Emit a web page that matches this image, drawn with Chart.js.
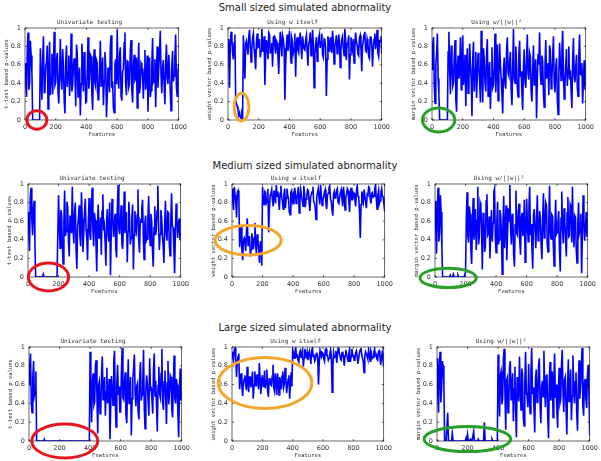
<!DOCTYPE html>
<html>
<head>
<meta charset="utf-8">
<script src="https://cdn.jsdelivr.net/npm/chart.js@4"></script>
<style>
  body { margin: 0; background: #fff; width: 601px; height: 461px; position: relative; overflow: hidden; }
  .fila { position: absolute; left: 205px; width: 200px; text-align: center; font: 10px "DejaVu Sans"; line-height: 12px; color: #222; white-space: nowrap; }
  .panel { position: absolute; }
</style>
</head>
<body>
<div class="fila" style="top:2px">Small sized simulated abnormality</div>
<div class="fila" style="top:160px">Medium sized simulated abnormality</div>
<div class="fila" style="top:322px">Large sized simulated abnormality</div>
<script>
// un valor leido cada 5 features (0..1000)
const step = 5;
const xTicks = [0, 200, 400, 600, 800, 1000];
const yTicks = [0, 0.2, 0.4, 0.6, 0.8, 1];
const panelTitles = ['Univariate testing', 'Using w itself', 'Using w/||w||\u00b2'];
const yLabels = ['t-test based p-values', 'weight vector based p-values', 'margin vector based p-values'];

const smallUnivariate = [
  .62,.41,.25,.78,.95,.33,.40,.86,.70,.52, 0,0,0,0,0,0,0,0,0,0,
  .78,.44,.22,.67,.91,.30,.35,.58,.64,.81,.12,.49,.85,.27,.47,.72,.28,.60,.96,.38,
  .41,.66,.73,.29,.18,.54,.88,.43,.33,.77,.59,.21,.07,.63,.81,.36,.52,.70,.26,.45,
  .94,.31,.38,.60,.67,.48,.15,.82,.72,.25,.44,.57,.05,.39,.83,.61,.31,.74,.58,.19,
  .20,.53,.90,.34,.46,.71,.69,.28,.11,.55,.77,.40,.36,.65,.62,.22,.24,.50,.86,.37,
  .49,.68,.16,.42,.74,.58,.03,.27,.57,.45,.30,.79,.92,.35,.42,.13,.08,.61,.66,.39,
  .98,.47,.34,.71,.79,.26,.21,.53,.55,.84,.95,.40,.27,.64,.63,.36,.40,.75,.87,.32,
  .19,.56,.71,.43,.45,.68,.13,.51,.84,.29,.37,.62,.60,.47,.23,.55,.76,.33,.50,.70,
  .09,.44,.68,.25,.32,.59,.89,.41,.43,.66,.14,.52,.80,.35,.56,.73,.97,.48,.29,.57,
  .65,.38,.17,.60,.82,.46,.39,.71,.54,.31,.10,.58,.75,.42,.48,.67,.93,.36,.26,.53,
  .61];
const smallWeight = [
  .88,.74,.35,.81,.96,.90,.72,.66,.84,.93, .22,.18,.15,.10,.05,.08,.03,.02,.07,.04,
  .92,.70,.45,.83,.86,.78,.71,.90,.98,.81,.63,.77,.89,.94,.77,.68,.55,.85,.94,.79,
  .80,.88,.68,.75,.99,.82,.74,.91,.38,.70,.87,.79,.66,.95,.93,.72,.79,.84,.58,.90,
  .91,.80,.72,.86,.84,.69,.50,.77,.96,.85,.69,.92,.88,.78,.22,.60,.81,.93,.75,.84,
  .97,.78,.62,.89,.85,.73,.78,.94,.47,.82,.90,.76,.73,.88,.95,.80,.66,.91,.83,.77,
  .76,.87,.92,.74,.59,.83,.86,.95,.70,.79,.98,.84,.35,.72,.82,.90,.64,.78,.89,.93,
  .78,.85,.94,.71,.68,.88,.87,.79,.26,.66,.91,.83,.74,.90,.80,.73,.97,.86,.61,.80,
  .85,.92,.72,.78,.93,.84,.57,.76,.88,.91,.79,.70,.99,.87,.65,.83,.84,.92,.44,.71,
  .90,.81,.76,.88,.62,.79,.95,.86,.81,.72,.70,.89,.92,.78,.53,.80,.86,.93,.96,.75,
  .74,.88,.83,.69,.67,.90,.91,.82,.58,.77,.88,.94,.77,.84,.98,.73,.69,.86,.85,.91,
  .72];
const smallMargin = [
  .55,.82,.90,.35,.18,.61,.72,.94,.45,.27, 0,0,0,0,0,0,0,0,0,0,
  0,.74,.96,.52,.28,.81,.63,.37,.41,.69,.87,.22,.09,.58,.70,.45,.52,.90,.33,.64,
  .92,.38,.47,.71,.15,.56,.78,.29,.36,.83,.61,.44,.04,.67,.85,.31,.55,.74,.24,.48,
  .73,.60,.42,.19,.97,.53,.19,.78,.66,.40,.31,.72,.88,.26,.50,.63,.12,.46,.79,.35,
  .38,.57,.94,.30,.57,.82,.21,.49,.83,.60,.45,.27,.07,.54,.68,.39,.34,.76,.90,.51,
  .48,.65,.74,.33,.16,.59,.99,.44,.40,.80,.62,.36,.25,.71,.86,.47,.53,.29,.11,.57,
  .77,.42,.35,.64,.93,.50,.44,.73,.69,.31,.20,.55,.81,.38,.58,.66,.02,.43,.72,.60,
  .95,.49,.39,.70,.64,.28,.14,.57,.87,.45,.51,.62,.27,.81,.75,.34,.46,.68,.91,.40,
  .30,.56,.67,.23,.06,.49,.84,.61,.43,.74,.97,.52,.23,.39,.60,.77,.37,.55,.80,.44,
  .54,.32,.13,.66,.89,.47,.41,.58,.71,.36,.26,.69,.93,.50,.49,.62,.18,.45,.65,.33,
  .58];

const mediumUnivariate = [
  .70,.52,.28,.86,.96,.63,.45,.74,.82,.40, 0,0,0,0,0,0,0,0,0,0,
  .03,0,0,0,0,0,0,0,0,0,0,0,0,0,0,0,0,0,0,0,
  .88,.57,.31,.72,.67,.35,.14,.60,.93,.44,.49,.81,.75,.38,.22,.66,.58,.47,.97,.53,
  .36,.70,.80,.29,.09,.55,.63,.77,.44,.33,.91,.62,.27,.48,.70,.84,.52,.41,.18,.59,
  .85,.46,.40,.73,.96,.51,.33,.69,.61,.38,.06,.57,.78,.42,.47,.64,.24,.71,.89,.50,
  .55,.37,.12,.62,.73,.45,.38,.80,.02,.48,.84,.66,.43,.56,.68,.31,.21,.74,.99,.52,
  .46,.61,.77,.35,.30,.58,.92,.47,.57,.70,.16,.49,.81,.63,.35,.42,.64,.78,.08,.45,
  .71,.54,.49,.67,.94,.40,.26,.61,.59,.73,.83,.44,.19,.57,.66,.39,.41,.63,.87,.52,
  .34,.68,.60,.29,.11,.53,.76,.45,.50,.71,.98,.57,.29,.46,.72,.64,.45,.33,.15,.58,
  .82,.47,.39,.70,.69,.36,.23,.62,.90,.55,.53,.30,.04,.48,.79,.61,.42,.56,.63,.40,
  .48];
const mediumWeight = [
  .95,.84,.72,.97,.88,.80,.64,.91,.93,.86, .32,.45,.55,.28,.18,.40,.42,.36,.28,.50,
  .63,.34,.36,.44,.22,.30,.47,.38,.30,.42,.58,.33,.25,.46,.40,.29,.15,.37,.38,.12,
  .97,.85,.78,.92,.91,.80,.83,.95,.48,.74,.88,.90,.94,.82,.76,.93,.86,.79,.99,.87,
  .92,.84,.72,.90,.98,.86,.81,.73,.89,.95,.74,.85,.95,.88,.84,.70,.67,.91,.93,.82,
  .87,.78,.96,.90,.79,.85,.90,.97,.69,.83,.94,.88,.82,.76,.98,.90,.75,.84,.88,.94,
  .93,.80,.71,.87,.89,.92,.97,.81,.80,.74,.62,.86,.91,.95,.85,.78,.99,.89,.77,.83,
  .86,.91,.94,.79,.73,.88,.90,.96,.98,.84,.81,.72,.66,.89,.92,.85,.87,.93,.95,.80,
  .79,.86,.91,.94,.84,.76,.97,.88,.72,.85,.89,.95,.93,.81,.70,.90,.96,.83,.83,.91,
  .90,.82,.76,.93,.98,.87,.85,.70,.42,.78,.92,.86,.81,.94,.94,.80,.74,.89,.88,.97,
  .96,.84,.79,.90,.91,.86,.87,.95,.99,.83,.73,.88,.93,.79,.82,.91,.95,.87,.86,.78,
  .70];
const mediumMargin = [
  .82,.55,.25,.71,.96,.38,.48,.88,.70,.30, 0,0,0,0,0,0,0,0,0,0,
  .02,0,0,0,.03,0,0,0,0,0,.02,0,0,0,0,0,0,0,0,0,
  .05,.62,.91,.44,.37,.76,.68,.29,.14,.57,.85,.40,.52,.73,.29,.61,.97,.35,.43,.80,
  .76,.50,.08,.69,.63,.27,.33,.82,.89,.45,.47,.65,.20,.54,.72,.38,.58,.91,.95,.42,
  .26,.60,.81,.35,.40,.72,.66,.49,.03,.58,.87,.31,.54,.77,.18,.46,.74,.60,.99,.52,
  .35,.68,.60,.24,.11,.56,.93,.47,.45,.70,.79,.38,.24,.63,.69,.44,.50,.83,.16,.41,
  .84,.57,.38,.75,.97,.45,.57,.30,.09,.66,.73,.52,.31,.61,.88,.39,.46,.71,.62,.34,
  .19,.64,.90,.42,.53,.80,.77,.35,.27,.59,.98,.48,.41,.67,.65,.33,.12,.55,.83,.46,
  .48,.59,.71,.28,.06,.63,.92,.51,.36,.74,.59,.40,.22,.69,.86,.43,.44,.78,.75,.37,
  .97,.50,.32,.66,.64,.29,.15,.58,.80,.47,.51,.68,.04,.45,.88,.60,.39,.52,.70,.43,
  .55];

const largeUnivariate = [
  .60,.81,.93,.42,.30,.67,.85,.48,.52,.74, 0,0,0,0,0,0,0,0,0,0,
  .02,0,0,0,0,0,0,0,0,0,0,0,0,0,0,0,0,0,0,0,
  0,0,0,0,0,0,0,0,0,0,0,0,0,0,0,0,0,0,0,0,
  0,0,0,0,0,0,0,0,0,0,0,0,0,0,0,0,0,0,0,0,
  .95,.56,.20,.63,.72,.38,.41,.80,.86,.47,.08,.59,.63,.29,.34,.71,.90,.44,.55,.68,
  .27,.52,.78,.40,.47,.66,.02,.35,.69,.57,.38,.84,.96,.42,.15,.60,.81,.49,.58,.31,
  .31,.73,.99,.46,.44,.62,.73,.28,.19,.55,.87,.40,.52,.68,.06,.45,.66,.78,.92,.50,
  .37,.58,.61,.30,.23,.70,.84,.43,.49,.64,.97,.35,.13,.52,.70,.61,.42,.27,.88,.55,
  .56,.44,.29,.75,.93,.48,.64,.37,.10,.59,.79,.50,.46,.72,.98,.41,.33,.63,.75,.47,
  .18,.62,.85,.39,.51,.70,.68,.34,.25,.57,.91,.45,.40,.66,.60,.29,.04,.52,.77,.43,
  .53];
const largeWeight = [
  .95,.90,.85,.97,.99,.88,.68,.84,.90,.93, .55,.66,.72,.58,.48,.61,.66,.70,.60,.54,
  .79,.62,.52,.68,.68,.57,.63,.74,.45,.59,.74,.65,.58,.71,.65,.55,.83,.67,.50,.62,
  .70,.58,.61,.75,.56,.64,.76,.53,.47,.66,.67,.60,.59,.69,.81,.57,.53,.72,.64,.49,
  .72,.63,.49,.68,.62,.55,.69,.74,.57,.61,.78,.66,.51,.59,.66,.70,.45,.62,.73,.58,
  .97,.93,.88,.95,.99,.90,.91,.86,.84,.94,.96,.89,.93,.97,.79,.88,.98,.92,.90,.95,
  .86,.91,.95,.88,.82,.96,.99,.90,.92,.85,.87,.93,.94,.89,.60,.84,.96,.91,.89,.94,
  .93,.88,.85,.97,.98,.91,.91,.86,.88,.93,.97,.90,.52,.80,.94,.89,.90,.96,.83,.92,
  .99,.95,.92,.87,.86,.94,.95,.89,.80,.91,.97,.93,.89,.85,.93,.98,.84,.90,.98,.92,
  .91,.86,.87,.94,.96,.90,.82,.88,.94,.97,.99,.92,.88,.85,.73,.90,.95,.93,.90,.87,
  .97,.92,.85,.96,.93,.88,.89,.94,.98,.91,.92,.87,.86,.95,.96,.90,.81,.89,.94,.86,
  .80];
const largeMargin = [
  .88,.52,.30,.76,.95,.41,.55,.85,.80,.62, 0,0,0,0,.30,0,0,0,0,0,
  .08,0,0,0,0,0,0,0,0,0,0,0,0,0,0,0,0,0,.03,0,
  .07,0,0,0,.02,0,0,0,.10,0,0,0,0,0,.02,0,0,0,0,0,
  0,0,.20,0,0,0,0,0,0,0,0,0,.02,0,0,0,0,0,0,0,
  .92,.58,.26,.70,.74,.39,.45,.88,.98,.51,.12,.64,.67,.30,.38,.79,.85,.44,.53,.72,
  .21,.55,.79,.33,.04,.68,.61,.42,.90,.57,.33,.77,.70,.25,.16,.62,.95,.51,.48,.36,
  .82,.45,.29,.73,.99,.50,.57,.34,.09,.66,.76,.41,.42,.80,.88,.37,.19,.58,.64,.47,
  .96,.54,.36,.69,.71,.28,.03,.60,.84,.43,.50,.74,.25,.62,.93,.46,.60,.31,.14,.55,
  .78,.40,.44,.81,.97,.52,.31,.65,.68,.35,.07,.59,.87,.42,.55,.76,.22,.48,.91,.56,
  .40,.63,.73,.29,.11,.57,.86,.45,.58,.79,.99,.38,.27,.61,.66,.44,.35,.70,.81,.49,
  .06];

// area = [izq, arriba, der, abajo] del recuadro en px; ring en unidades de datos
const panels = [
  { values: smallUnivariate, col: 0, area: [25, 28, 180, 120], ring: { x: 77, y: 0, rx: 65, ry: 0.1, color: '#e8141c' } },
  { values: smallWeight, col: 1, area: [228, 28, 383, 120], ring: { x: 88, y: 0.14, rx: 48, ry: 0.15, color: '#f2a72c' } },
  { values: smallMargin, col: 2, area: [432, 28, 587, 120], ring: { x: 43, y: 0, rx: 105, ry: 0.13, color: '#26a026' } },
  { values: mediumUnivariate, col: 0, area: [28, 184, 182, 277], ring: { x: 134, y: 0, rx: 132, ry: 0.15, color: '#e8141c' } },
  { values: mediumWeight, col: 1, area: [232, 184, 386, 277], ring: { x: 106, y: 0.395, rx: 216, ry: 0.158, color: '#f2a72c' } },
  { values: mediumMargin, col: 2, area: [435, 184, 589, 277], ring: { x: 86, y: -0.01, rx: 184, ry: 0.104, color: '#26a026' } },
  { values: largeUnivariate, col: 0, area: [29, 347, 183, 441], ring: { x: 234, y: 0, rx: 216, ry: 0.18, color: '#e8141c' } },
  { values: largeWeight, col: 1, area: [232, 347, 385, 441], ring: { x: 218, y: 0.617, rx: 308, ry: 0.27, color: '#f2a72c' } },
  { values: largeMargin, col: 2, area: [437, 347, 591, 441], ring: { x: 199, y: 0.02, rx: 284, ry: 0.133, color: '#26a026' } }
];

const smallFont = { family: 'DejaVu Sans Mono', size: 5.5 };
const tickFont = { family: 'DejaVu Sans', size: 6.5 };

function makeFrame(ring) {
  return {
    id: 'frame',
    afterDatasetsDraw(chart) {
      const { ctx, chartArea: a, scales: { x, y } } = chart;
      ctx.save();
      ctx.strokeStyle = '#000';
      ctx.lineWidth = 0.6;
      ctx.strokeRect(a.left, a.top, a.width, a.height);
      ctx.beginPath();
      xTicks.forEach(v => {
        const px = x.getPixelForValue(v);
        ctx.moveTo(px, a.bottom); ctx.lineTo(px, a.bottom - 2);
        ctx.moveTo(px, a.top); ctx.lineTo(px, a.top + 2);
      });
      yTicks.forEach(v => {
        const py = y.getPixelForValue(v);
        ctx.moveTo(a.left, py); ctx.lineTo(a.left + 2, py);
        ctx.moveTo(a.right, py); ctx.lineTo(a.right - 2, py);
      });
      ctx.stroke();

      // elipse que marca la zona anormal
      const cx = x.getPixelForValue(ring.x);
      const cy = y.getPixelForValue(ring.y);
      const rx = x.getPixelForValue(ring.x + ring.rx) - cx;
      const ry = cy - y.getPixelForValue(ring.y + ring.ry);
      ctx.beginPath();
      ctx.ellipse(cx, cy, rx, ry, 0, 0, Math.PI * 2);
      ctx.strokeStyle = ring.color;
      ctx.lineWidth = 3;
      ctx.stroke();
      ctx.restore();
    }
  };
}

panels.forEach(p => {
  const [pl, pt, pr, pb] = p.area;
  const left = pl - 26, top = pt - 20;
  const width = pr - left + 10, height = pb + 24 - top;

  const div = document.createElement('div');
  div.className = 'panel';
  div.style.left = left + 'px';
  div.style.top = top + 'px';
  const canvas = document.createElement('canvas');
  canvas.width = width;
  canvas.height = height;
  div.appendChild(canvas);
  document.body.appendChild(div);

  new Chart(canvas, {
    type: 'line',
    data: {
      datasets: [{
        data: p.values.map((v, i) => ({ x: i * step, y: v })),
        borderColor: '#0000ff',
        borderWidth: 1.6,
        pointRadius: 0,
        tension: 0
      }]
    },
    options: {
      responsive: false,
      animation: false,
      events: [],
      layout: { padding: { left: 0, right: 10, top: 0, bottom: 0 } },
      plugins: {
        legend: { display: false },
        tooltip: { enabled: false },
        title: {
          display: true,
          text: panelTitles[p.col],
          color: '#333',
          font: { family: 'DejaVu Sans Mono', size: 6, weight: 'normal' },
          padding: { top: 10.4, bottom: 2.4 }
        }
      },
      scales: {
        x: {
          type: 'linear',
          min: 0,
          max: 1000,
          afterBuildTicks: s => { s.ticks = xTicks.map(v => ({ value: v })); },
          afterFit: s => { s.height = 24; },
          grid: { display: false, drawTicks: false },
          border: { display: false },
          ticks: { font: tickFont, color: '#333', padding: 3, maxRotation: 0, callback: v => String(v) },
          title: { display: true, text: 'Features', font: smallFont, color: '#333', padding: { top: 0, bottom: 5.7 } }
        },
        y: {
          min: 0,
          max: 1,
          afterBuildTicks: s => { s.ticks = yTicks.map(v => ({ value: v })); },
          afterFit: s => { s.width = 26; },
          grid: { display: false, drawTicks: false },
          border: { display: false },
          ticks: { font: tickFont, color: '#333', padding: 4, callback: v => String(v) },
          title: { display: true, text: yLabels[p.col], font: smallFont, color: '#333', padding: { top: 4, bottom: 0 } }
        }
      }
    },
    plugins: [makeFrame(p.ring)]
  });
});
</script>
</body>
</html>
